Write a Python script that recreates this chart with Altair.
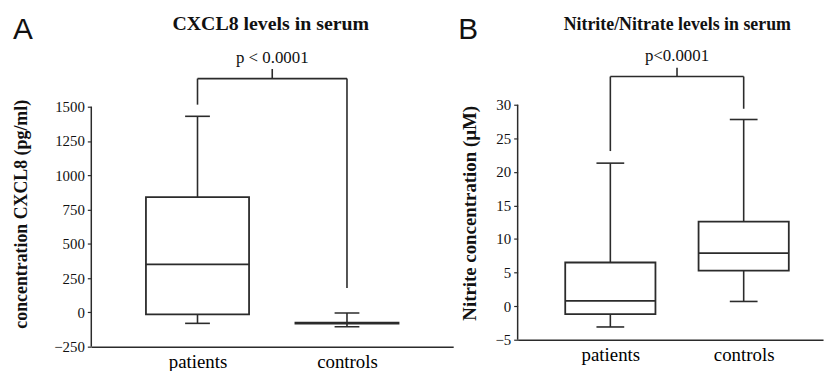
import altair as alt
import pandas as pd

cats = ["patients", "controls"]

# Panel A: CXCL8 (pg/ml) box statistics
cx_min = [-80, -105]
cx_q1 = [-15, -82]
cx_med = [350, -78]
cx_q3 = [840, -74]
cx_max = [1430, -5]
cx_ticks = [-250, 0, 250, 500, 750, 1000, 1250, 1500]
cx_leg_bottom = [1515, 177]
cx_bracket = [1705]
cx_bracket_top = [1775]
cx_p_y = [1818]
cx_p_text = ["p < 0.0001"]

# Panel B: Nitrite (uM) box statistics
no_min = [-3.1, 0.7]
no_q1 = [-1.2, 5.3]
no_med = [0.8, 7.9]
no_q3 = [6.5, 12.6]
no_max = [21.3, 27.8]
no_ticks = [-5, 0, 5, 10, 15, 20, 25, 30]
no_leg_bottom = [23.1, 29.4]
no_bracket = [34.2]
no_bracket_top = [35.5]
no_p_y = [36.5]
no_p_text = ["p<0.0001"]

LINE = "#2b2b2b"
SERIF = "Liberation Serif"


def panel(letter, title, ytitle, vmin, q1, med, q3, vmax, ticks, ydom, xdom,
          width, height, box_w, cap_w, leg_bottom, bracket, bracket_top, p_y, p_text,
          letter_dx, title_x, title_fs, ytitle_x, ytitle_y, ytitle_fs):
    idx = list(range(len(cats)))
    df = pd.DataFrame({"idx": idx, "cat": cats, "lo": vmin, "q1": q1,
                       "med": med, "q3": q3, "hi": vmax})
    label_expr = "[" + ",".join("'%s'" % c for c in cats) + "][datum.value]"
    xaxis = alt.Axis(values=idx, labelExpr=label_expr, ticks=False, grid=False,
                     title=None, domainColor=LINE, domainWidth=1.5,
                     labelFont=SERIF, labelFontSize=19, labelColor="black",
                     labelPadding=6, labelAngle=0)
    yaxis = alt.Axis(values=ticks, format="d", domain=False, grid=False, tickSize=4,
                     tickColor=LINE, tickWidth=1.2, labelPadding=3,
                     labelFont=SERIF, labelFontSize=15, labelColor="#111",
                     title=ytitle, titleFont=SERIF, titleFontSize=ytitle_fs,
                     titleFontWeight="bold", titleColor="#111", titleAngle=-90,
                     titleX=ytitle_x, titleY=ytitle_y, titleAlign="center",
                     titleBaseline="middle")
    xs = alt.Scale(domain=xdom, nice=False, zero=False)
    ys = alt.Scale(domain=ydom, nice=False, zero=False)

    def X(f):
        return alt.X(f, scale=xs, axis=xaxis)

    def Y(f):
        return alt.Y(f, scale=ys, axis=yaxis)

    base = alt.Chart(df)
    axis_df = pd.DataFrame({"y0": [ticks[0]], "y1": [ticks[-1]]})
    yline = alt.Chart(axis_df).mark_rule(color=LINE, strokeWidth=1.5).encode(
        x=alt.value(0), y=Y("y0:Q"), y2="y1:Q")
    wlo = base.mark_rule(color=LINE, strokeWidth=1.6).encode(x=X("idx:Q"), y=Y("lo:Q"), y2="q1:Q")
    whi = base.mark_rule(color=LINE, strokeWidth=1.6).encode(x=X("idx:Q"), y=Y("q3:Q"), y2="hi:Q")
    box = base.mark_bar(width=box_w, fill="white", stroke=LINE, strokeWidth=1.8).encode(
        x=X("idx:Q"), y=Y("q1:Q"), y2="q3:Q")
    medt = base.mark_tick(orient="horizontal", size=box_w, thickness=1.8, color=LINE,
                          opacity=1).encode(x=X("idx:Q"), y=Y("med:Q"))
    caplo = base.mark_tick(orient="horizontal", size=cap_w, thickness=1.6, color=LINE,
                           opacity=1).encode(x=X("idx:Q"), y=Y("lo:Q"))
    caphi = base.mark_tick(orient="horizontal", size=cap_w, thickness=1.6, color=LINE,
                           opacity=1).encode(x=X("idx:Q"), y=Y("hi:Q"))

    bdf = pd.DataFrame({"idx": idx, "leg": leg_bottom, "br": bracket * len(idx)})
    legs = alt.Chart(bdf).mark_rule(color=LINE, strokeWidth=1.6).encode(
        x=X("idx:Q"), y=Y("leg:Q"), y2="br:Q")
    hdf = pd.DataFrame({"x0": [idx[0]], "x1": [idx[-1]], "br": bracket,
                        "mid": [(idx[0] + idx[-1]) / 2], "top": bracket_top,
                        "py": p_y, "pt": p_text})
    hline = alt.Chart(hdf).mark_rule(color=LINE, strokeWidth=1.6).encode(
        x=X("x0:Q"), x2="x1:Q", y=Y("br:Q"))
    mtick = alt.Chart(hdf).mark_rule(color=LINE, strokeWidth=1.6).encode(
        x=X("mid:Q"), y=Y("br:Q"), y2="top:Q")
    ptxt = alt.Chart(hdf).mark_text(font=SERIF, fontSize=17, color="#111",
                                    baseline="alphabetic", align="center").encode(
        x=X("mid:Q"), y=Y("py:Q"), text="pt:N")

    tdf = pd.DataFrame({"t": [title], "l": [letter]})
    ttl = alt.Chart(tdf).mark_text(font=SERIF, fontSize=title_fs, fontWeight="bold",
                                   color="#111", baseline="alphabetic", align="center").encode(
        x=alt.value(title_x), y=alt.value(15), text="t:N")
    let = alt.Chart(tdf).mark_text(font="Liberation Sans", fontSize=30, color="#111",
                                   baseline="alphabetic", align="left").encode(
        x=alt.value(letter_dx), y=alt.value(24), text="l:N")

    return alt.layer(yline, wlo, whi, box, medt, caplo, caphi, legs, hline, mtick,
                     ptxt, ttl, let).properties(width=width, height=height)


A = panel("A", "CXCL8 levels in serum", "concentration CXCL8 (pg/ml)",
          cx_min, cx_q1, cx_med, cx_q3, cx_max, cx_ticks,
          [-250, 2165.3], [-0.6774, 1.6774], 365, 334, 104, 25,
          cx_leg_bottom, cx_bracket, cx_bracket_top, cx_p_y, cx_p_text,
          -79, 181, 20, -70, 200, 18)

B = panel("B", "Nitrite/Nitrate levels in serum", "Nitrite concentration (\u00b5M)",
          no_min, no_q1, no_med, no_q3, no_max, no_ticks,
          [-5, 43.29], [-0.658, 1.558], 308, 327, 91, 28,
          no_leg_bottom, no_bracket, no_bracket_top, no_p_y, no_p_text,
          -60, 161, 18, -49, 199, 19)

chart = alt.hconcat(A, B, spacing=5).properties(
    padding={"left": 5, "top": 5, "right": 5, "bottom": 0}
).configure_view(stroke=None).configure_axis(
    labelFont=SERIF, titleFont=SERIF
)

chart.save("out.html", embed_options={"renderer": "svg", "actions": False})
